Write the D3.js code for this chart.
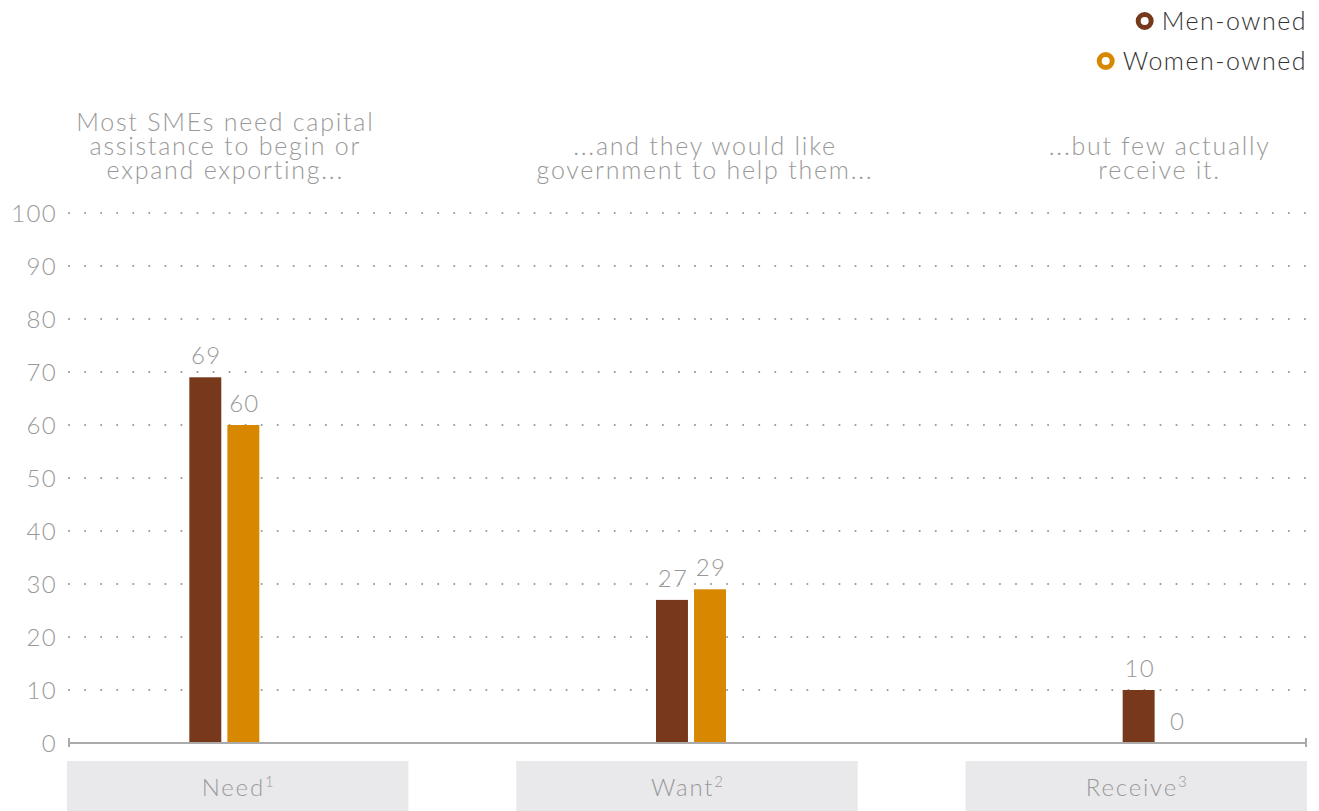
<!DOCTYPE html>
<html><head><meta charset="utf-8">
<script src="https://cdn.jsdelivr.net/npm/d3@7/dist/d3.min.js"></script>
<style>body{margin:0;background:#fff;}svg{display:block;font-family:Lato,"Open Sans",sans-serif;font-weight:300;}</style>
</head><body>
<svg id="c" width="1319" height="811"></svg>
<script>
const categories = ["Need","Want","Receive"];
const footnotes = ["1","2","3"];
const series = ["Men-owned","Women-owned"];
const menValues = [69,27,10];
const womenValues = [60,29,0];
const yTicks = [0,10,20,30,40,50,60,70,80,90,100];
const titles = [
  ["Most SMEs need capital","assistance to begin or","expand exporting..."],
  ["...and they would like","government to help them..."],
  ["...but few actually","receive it."]
];
const colors = ["#78381c","#d88800"];

const svg = d3.select("#c");
const L = 68, R = 1307, T = 213, B = 743;
const y = d3.scaleLinear().domain([0,100]).range([B,T]);
const xBox = d3.scaleBand().domain(categories).range([67,1307]).paddingInner(0.24).paddingOuter(0);
const xGroup = d3.scaleBand().domain(categories).range([L,1314]).paddingInner(0.85).paddingOuter(0.26);
const xSub = d3.scaleBand().domain(series).range([0,xGroup.bandwidth()]).paddingInner(0.16);
const values = [menValues, womenValues];

// grid
svg.append("g").selectAll("line").data(yTicks.filter(d=>d>0)).join("line")
  .attr("x1",L+1).attr("x2",R).attr("y1",d=>y(d)).attr("y2",d=>y(d))
  .attr("stroke","#999").attr("stroke-width",2).attr("stroke-linecap","round")
  .attr("stroke-dasharray","0.1,15.95");

// y tick labels
svg.append("g").selectAll("text").data(yTicks).join("text")
  .attr("x",57).attr("y",d=>y(d)).attr("dy","0.36em").attr("text-anchor","end")
  .attr("fill","#999").attr("font-size",24).attr("letter-spacing",1.3).text(d=>d);

// bars
categories.forEach((c,i)=>{
  series.forEach((s,j)=>{
    const v = values[j][i];
    const x0 = xGroup(c)+xSub(s);
    svg.append("rect").attr("x",x0).attr("y",y(v)).attr("width",xSub.bandwidth())
      .attr("height",B-y(v)).attr("fill",colors[j]);
    svg.append("text").attr("x",x0+xSub.bandwidth()/2+1).attr("y",y(v)-13)
      .attr("text-anchor","middle").attr("fill","#999").attr("font-size",24)
      .attr("letter-spacing",1.3).text(v);
  });
});

// axis line
const ax = svg.append("g").attr("stroke","#aaa").attr("stroke-width",2);
ax.append("line").attr("x1",L).attr("x2",R).attr("y1",B).attr("y2",B);
ax.append("line").attr("x1",L+1).attr("x2",L+1).attr("y1",B-5).attr("y2",B+4);
ax.append("line").attr("x1",R-1).attr("x2",R-1).attr("y1",B-5).attr("y2",B+4);

// category boxes
categories.forEach((c,i)=>{
  svg.append("rect").attr("x",xBox(c)).attr("y",761).attr("width",xBox.bandwidth()).attr("height",50).attr("fill","#e9e9eb");
  const t = svg.append("text").attr("x",xBox(c)+xBox.bandwidth()/2).attr("y",796)
    .attr("text-anchor","middle").attr("fill","#999").attr("font-size",24).attr("letter-spacing",1.8);
  t.append("tspan").text(c);
  t.append("tspan").attr("font-size",15).attr("dy",-9).attr("letter-spacing",0).text(footnotes[i]);
});

// titles
titles.forEach((lines,i)=>{
  const cx = xGroup(categories[i])+xGroup.bandwidth()/2 + [1,14,2][i];
  const n = lines.length;
  lines.forEach((ln,k)=>{
    svg.append("text").attr("x",cx).attr("y",179-(n-1-k)*24).attr("text-anchor","middle")
      .attr("fill","#999").attr("font-size",25).attr("letter-spacing",1.75).text(ln);
  });
});

// legend
series.forEach((s,j)=>{
  const g = svg.append("g").attr("transform",`translate(1307,${21+j*40})`);
  const t = g.append("text").attr("x",0).attr("y",0).attr("dy","0.35em").attr("text-anchor","end")
    .attr("fill","#333").attr("font-size",25).attr("letter-spacing",1.5).text(s);
  const w = t.node().getComputedTextLength();
  g.append("circle").attr("cx",-w-17).attr("cy",0).attr("r",6.5).attr("fill","none")
    .attr("stroke",colors[j]).attr("stroke-width",5);
});
</script>
</body></html>
